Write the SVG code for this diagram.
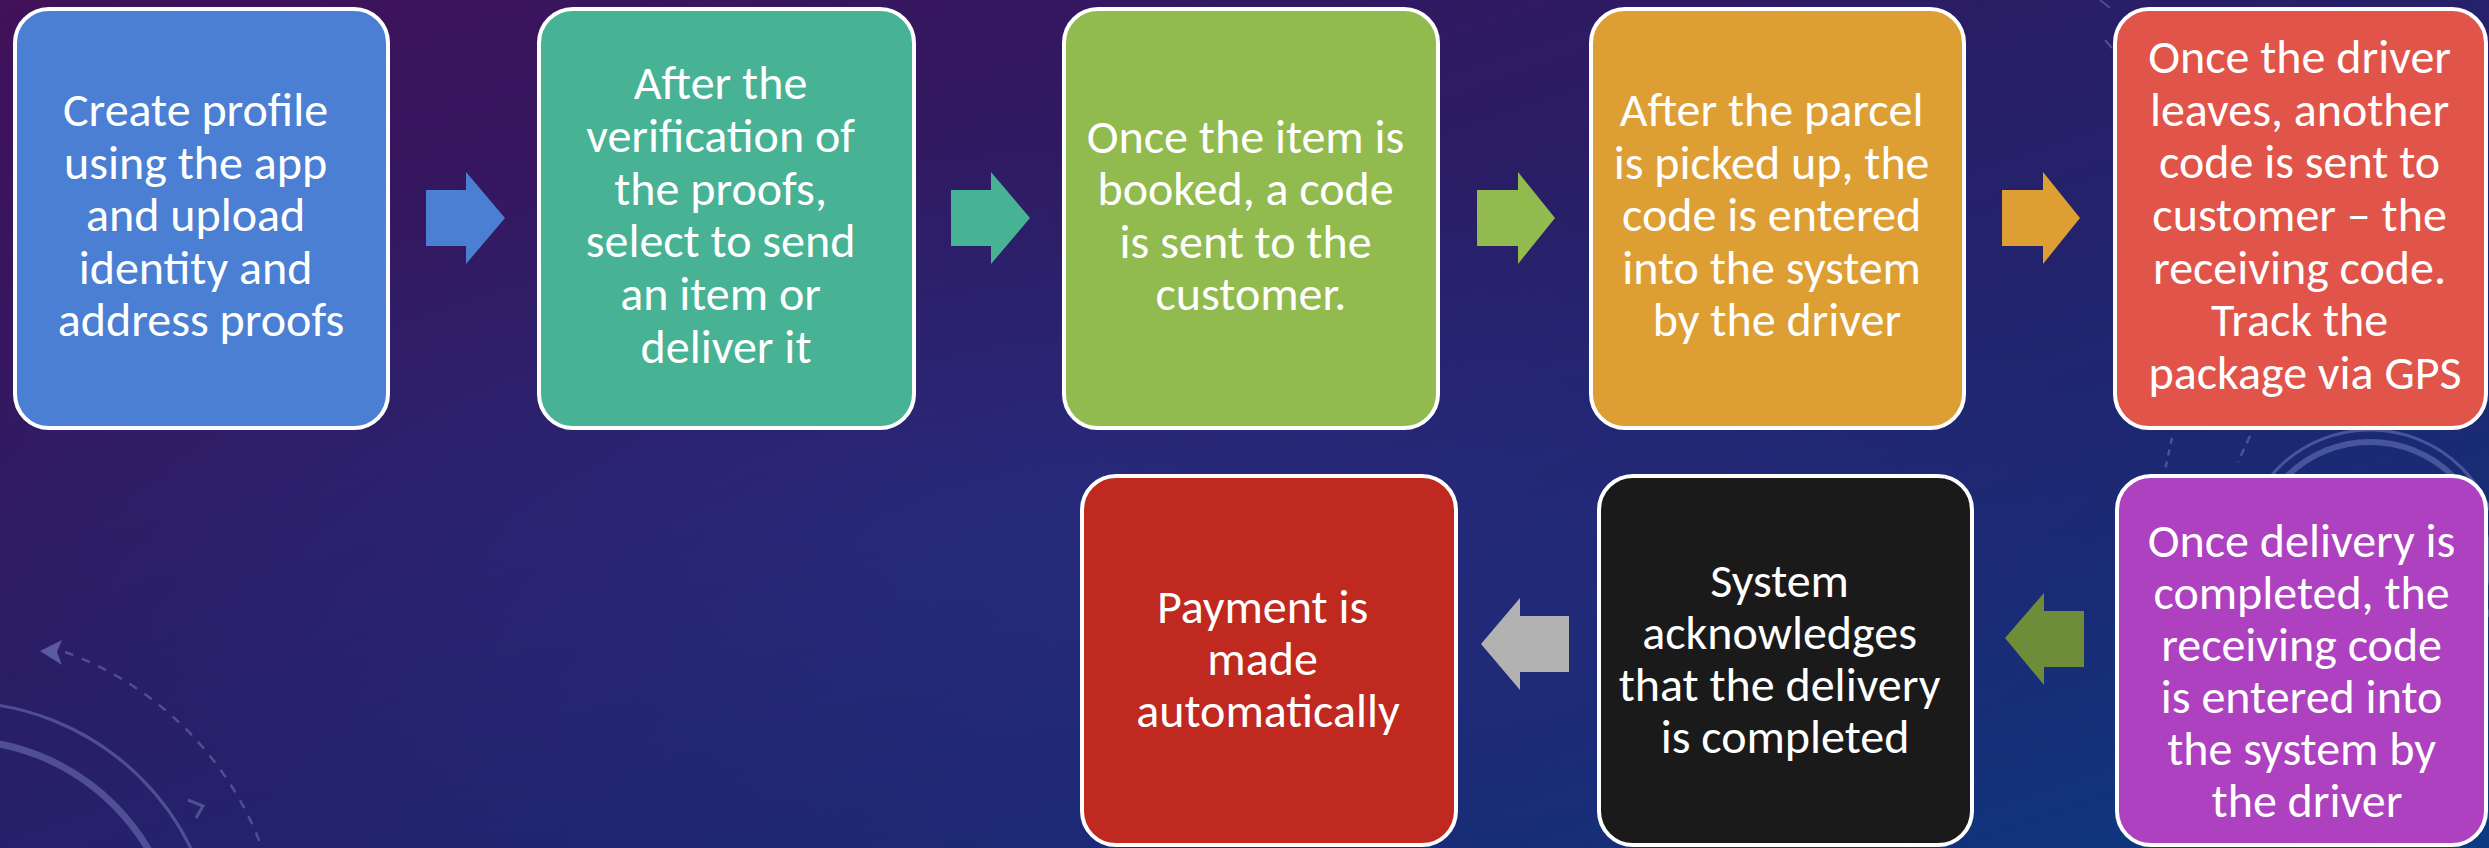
<svg xmlns="http://www.w3.org/2000/svg" width="2489" height="848" viewBox="0 0 2489 848">
  <defs>
    <linearGradient id="bg" x1="0" y1="0" x2="1" y2="1">
      <stop offset="0" stop-color="#411159"/>
      <stop offset="0.4" stop-color="#2a1d66"/>
      <stop offset="0.75" stop-color="#1a2a74"/>
      <stop offset="1" stop-color="#0c3a82"/>
    </linearGradient>
    <radialGradient id="glow" cx="0.42" cy="0.62" r="0.45">
      <stop offset="0" stop-color="#2b3590" stop-opacity="0.45"/>
      <stop offset="1" stop-color="#2b3590" stop-opacity="0"/>
    </radialGradient>
    <style>
      .box { stroke: #ffffff; stroke-width: 4; }
      .lbl { fill: #ffffff; font-family: Carlito, "Liberation Sans Narrow", "Open Sans", sans-serif; font-size: 48px; text-anchor: middle; }
      .deco { fill: none; stroke: #8c95d8; stroke-opacity: 0.4; }
    </style>
  </defs>

  <!-- backdrop -->
  <rect x="0" y="0" width="2489" height="848" fill="url(#bg)"/>
  <rect x="0" y="0" width="2489" height="848" fill="url(#glow)"/>

  <!-- faint orbit ornaments -->
  <g id="ornaments">
    <circle class="deco" cx="-43" cy="962" r="260" stroke-width="3"/>
    <circle class="deco" cx="-43" cy="962" r="222" stroke-width="7"/>
    <path class="deco" d="M 65 652 A 330 330 0 0 1 262 848" stroke-width="2.5" stroke-dasharray="9 9"/>
    <path d="M 40 651 L 62 640 L 57 652 L 62 665 Z" fill="#8c95d8" fill-opacity="0.5"/>
    <path class="deco" d="M 188 800 L 203 806 L 196 818" stroke-width="3"/>
    <circle class="deco" cx="2370" cy="560" r="130" stroke-width="3"/>
    <circle class="deco" cx="2370" cy="560" r="118" stroke-width="6"/>
    <path class="deco" d="M 2172 438 L 2165 470" stroke-width="2.5" stroke-dasharray="6 6"/>
    <path class="deco" d="M 2250 436 L 2238 462" stroke-width="2.5" stroke-dasharray="8 6"/>
    <path class="deco" d="M 2100 0 L 2110 8 M 2105 40 L 2112 48" stroke-width="2"/>
  </g>

  <!-- connectors -->
  <g id="connectors">
    <polygon fill="#4a7fd3" points="426,190 466,190 466,172 505,218 466,264 466,246 426,246"/>
    <polygon fill="#48b295" points="951,190 991,190 991,172 1030,218 991,264 991,246 951,246"/>
    <polygon fill="#91ba4f" points="1477,190 1518,190 1518,172 1555,218 1518,264 1518,246 1477,246"/>
    <polygon fill="#dd9e33" points="2002,190 2043,190 2043,172 2080,218 2043,264 2043,246 2002,246"/>
    <polygon fill="#6f8c38" points="2084,611 2044,611 2044,593 2005,638 2044,685 2044,667 2084,667"/>
    <polygon fill="#b2b2b2" points="1569,616 1520,616 1520,598 1481,644 1520,690 1520,672 1569,672"/>
  </g>

  <!-- step 1 -->
  <g id="create-profile">
    <rect class="box" x="15" y="9" width="373" height="419" rx="34" fill="#4a7fd3"/>
    <text class="lbl">
      <tspan x="201" y="126">Create profile</tspan>
      <tspan x="201" y="179">using the app</tspan>
      <tspan x="201" y="231">and upload</tspan>
      <tspan x="201" y="284">identity and</tspan>
      <tspan x="201" y="336">address proofs</tspan>
    </text>
  </g>

  <!-- step 2 -->
  <g id="select-service">
    <rect class="box" x="539" y="9" width="375" height="419" rx="34" fill="#48b295"/>
    <text class="lbl">
      <tspan x="726" y="99">After the</tspan>
      <tspan x="726" y="152">verification of</tspan>
      <tspan x="726" y="205">the proofs,</tspan>
      <tspan x="726" y="257">select to send</tspan>
      <tspan x="726" y="310">an item or</tspan>
      <tspan x="726" y="363">deliver it</tspan>
    </text>
  </g>

  <!-- step 3 -->
  <g id="booking-code">
    <rect class="box" x="1064" y="9" width="374" height="419" rx="34" fill="#91ba4f"/>
    <text class="lbl">
      <tspan x="1251" y="153">Once the item is</tspan>
      <tspan x="1251" y="205">booked, a code</tspan>
      <tspan x="1251" y="258">is sent to the</tspan>
      <tspan x="1251" y="310">customer.</tspan>
    </text>
  </g>

  <!-- step 4 -->
  <g id="pickup-code">
    <rect class="box" x="1591" y="9" width="373" height="419" rx="34" fill="#dd9e33"/>
    <text class="lbl">
      <tspan x="1777" y="126">After the parcel</tspan>
      <tspan x="1777" y="179">is picked up, the</tspan>
      <tspan x="1777" y="231">code is entered</tspan>
      <tspan x="1777" y="284">into the system</tspan>
      <tspan x="1777" y="336">by the driver</tspan>
    </text>
  </g>

  <!-- step 5 -->
  <g id="receiving-code">
    <rect class="box" x="2115" y="9" width="371" height="419" rx="34" fill="#e1544a"/>
    <text class="lbl">
      <tspan x="2305" y="73">Once the driver</tspan>
      <tspan x="2305" y="126">leaves, another</tspan>
      <tspan x="2305" y="178">code is sent to</tspan>
      <tspan x="2305" y="231">customer – the</tspan>
      <tspan x="2305" y="284">receiving code.</tspan>
      <tspan x="2305" y="336">Track the</tspan>
      <tspan x="2305" y="389">package via GPS</tspan>
    </text>
  </g>

  <!-- step 6 -->
  <g id="delivery-entered">
    <rect class="box" x="2117" y="476" width="369" height="369" rx="34" fill="#ad41bf"/>
    <text class="lbl">
      <tspan x="2307" y="557">Once delivery is</tspan>
      <tspan x="2307" y="609">completed, the</tspan>
      <tspan x="2307" y="661">receiving code</tspan>
      <tspan x="2307" y="713">is entered into</tspan>
      <tspan x="2307" y="765">the system by</tspan>
      <tspan x="2307" y="817">the driver</tspan>
    </text>
  </g>

  <!-- step 7 -->
  <g id="system-ack">
    <rect class="box" x="1599" y="476" width="373" height="369" rx="34" fill="#1a1a1a"/>
    <text class="lbl">
      <tspan x="1785" y="597">System</tspan>
      <tspan x="1785" y="649">acknowledges</tspan>
      <tspan x="1785" y="701">that the delivery</tspan>
      <tspan x="1785" y="753">is completed</tspan>
    </text>
  </g>

  <!-- step 8 -->
  <g id="payment">
    <rect class="box" x="1082" y="476" width="374" height="369" rx="34" fill="#c0291f"/>
    <text class="lbl">
      <tspan x="1268" y="623">Payment is</tspan>
      <tspan x="1268" y="675">made</tspan>
      <tspan x="1268" y="727">automatically</tspan>
    </text>
  </g>
</svg>
